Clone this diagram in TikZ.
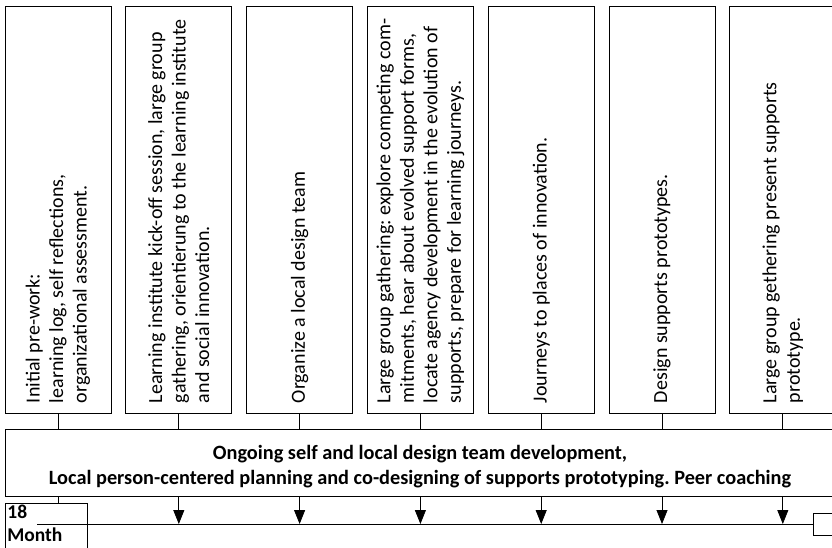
\documentclass[tikz,border=0pt]{standalone}
\usepackage{fontspec}
\setmainfont{Carlito}
\frenchspacing
\usetikzlibrary{arrows.meta}
\begin{document}
\begin{tikzpicture}[x=1pt,y=-1pt,line width=0.8pt,
  stepbox/.style={draw,minimum width=106pt,minimum height=407pt,inner sep=0pt},
  steptext/.style={rotate=90,anchor=west,align=left,inner sep=0pt,
    font=\fontsize{20}{23.5}\selectfont},
  bandbox/.style={draw,minimum width=830pt,minimum height=67pt},
  bandtext/.style={align=center,inner sep=0pt,font=\fontsize{20.3}{25}\selectfont\bfseries},
  arr/.style={-{Triangle[length=14pt,width=11pt]}}]
\useasboundingbox (0,0) rectangle (832,547);
\clip (0,0) rectangle (832,547);

\foreach \i/\x in {1/58,2/178.8,3/299.6,4/420.4,5/541.2,6/662,7/782.8}
  {\node[stepbox] (b\i) at (\x,209.5) {};}

\node[steptext] (t1) at ([yshift=10pt]b1.south) {Initial pre-work:\\learning log, self reflections,\\organizational assessment.};
\node[steptext] (t2) at ([yshift=10pt]b2.south) {Learning institute kick-off session, large group\\gathering, orientierung to the learning institute\\and social innovation.};
\node[steptext] (t3) at ([yshift=10pt]b3.south) {Organize a local design team};
\node[steptext] (t4) at ([yshift=10pt]b4.south) {Large group gathering: explore competing com-\\mitments, hear about evolved support forms,\\locate agency development in the evolution of\\supports, prepare for learning journeys.};
\node[steptext] (t5) at ([yshift=10pt]b5.south) {Journeys to places of innovation.};
\node[steptext] (t6) at ([yshift=10pt]b6.south) {Design supports prototypes.};
\node[steptext] (t7) at ([yshift=10pt]b7.south) {Large group gethering present supports\\prototype.};

\node[bandbox] (band) at (420,462.5) {};
\node[bandtext] (bt) at ([yshift=-4pt]band.center) {Ongoing self and local design team development,\\Local person-centered planning and co-designing of supports prototyping. Peer coaching};

\node[draw,minimum width=82pt,minimum height=60pt,anchor=north west,inner sep=0pt] (m) at (5,503) {};
\node[anchor=north west,inner sep=0pt,align=left,font=\fontsize{19.5}{23}\selectfont\bfseries] (mt) at (7,505) {18\\Month};

\coordinate (ts) at (37,524);
\node[draw,minimum width=40pt,minimum height=22pt,anchor=west,inner sep=0pt] (e) at (813,524) {};
\draw (ts) -- (e.west);

\foreach \i in {1,...,7} {\draw (b\i.south) -- (b\i.south |- band.north);}
\draw (b1.south |- band.south) -- (b1.south |- m.north);
\foreach \i in {2,...,7} {\draw[arr] (b\i.south |- band.south) -- (b\i.south |- ts);}
\end{tikzpicture}
\end{document}
